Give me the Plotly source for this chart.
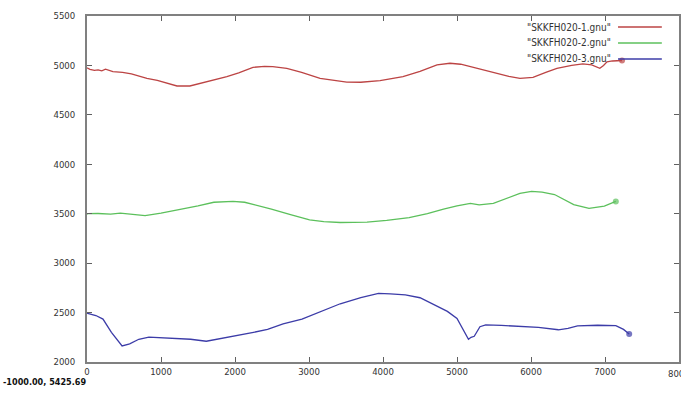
import plotly.graph_objects as go

# ---- data ----
x_red = [0, 40, 100, 150, 200, 250, 350, 480, 600, 810, 950, 1100, 1216, 1390, 1550, 1700, 1890, 2050,
         2243, 2400, 2510, 2700, 2900, 3150, 3350, 3510, 3700, 3960, 4270, 4500, 4730, 4905,
         5050, 5176, 5350, 5540, 5700, 5851, 6027, 6200, 6350, 6550, 6700, 6820, 6890, 6930,
         6980, 7027, 7100, 7180, 7230]
y_red = [4975, 4961, 4950, 4955, 4945, 4962, 4937, 4930, 4915, 4870, 4850, 4815, 4792, 4792, 4820, 4845,
         4886, 4925, 4981, 4990, 4987, 4971, 4930, 4870, 4845, 4832, 4830, 4846, 4886, 4940,
         5006, 5022, 5012, 4987, 4955, 4920, 4890, 4870, 4880, 4930, 4971, 5000, 5015, 5005,
         4987, 4971, 5000, 5037, 5045, 5047, 5050]

x_green = [0, 9, 150, 319, 450, 600, 785, 1000, 1250, 1500, 1714, 1973, 2130, 2300, 2492,
           2750, 3008, 3200, 3422, 3784, 4050, 4353, 4600, 4818, 5000, 5181, 5300, 5491,
           5698, 5850, 6008, 6150, 6318, 6450, 6577, 6784, 6991, 7146]
y_green = [3495, 3500, 3502, 3496, 3505, 3495, 3481, 3505, 3539, 3580, 3616, 3624, 3616,
           3585, 3546, 3490, 3438, 3420, 3411, 3415, 3432, 3461, 3500, 3546, 3580, 3605,
           3590, 3605, 3663, 3705, 3725, 3718, 3694, 3640, 3593, 3554, 3577, 3624]

x_blue = [0, 9, 120, 216, 330, 474, 577, 700, 836, 1000, 1198, 1400, 1612, 1800, 2077,
          2250, 2440, 2650, 2905, 3150, 3422, 3700, 3939, 4100, 4302, 4500, 4662, 4870,
          5000, 5077, 5155, 5190, 5233, 5310, 5388, 5600, 5853, 6100, 6370, 6500, 6629,
          6900, 7146, 7250, 7327]
y_blue = [2495, 2492, 2470, 2434, 2300, 2163, 2183, 2230, 2252, 2245, 2237, 2230, 2210,
          2235, 2279, 2300, 2330, 2385, 2434, 2510, 2589, 2650, 2694, 2690, 2678, 2650,
          2589, 2512, 2440, 2337, 2229, 2250, 2260, 2357, 2376, 2370, 2357, 2350, 2326,
          2340, 2365, 2372, 2368, 2330, 2283]

series_names = ['"SKKFH020-1.gnu"', '"SKKFH020-2.gnu"', '"SKKFH020-3.gnu"']
series_colors = ["#bc4444", "#5cc05c", "#3c3ca8"]
x_ticks = [0, 1000, 2000, 3000, 4000, 5000, 6000, 7000]
x_edge_tick = 8000
y_ticks = [2000, 2500, 3000, 3500, 4000, 4500, 5000, 5500]
coord_text = "-1000.00, 5425.69"

fig = go.Figure()
for xs, ys, name, col in zip([x_red, x_green, x_blue], [y_red, y_green, y_blue],
                             series_names, series_colors):
    sizes = [0] * (len(xs) - 1) + [6]
    fig.add_trace(go.Scatter(x=xs, y=ys, mode="lines+markers", name=name,
                             line=dict(color=col, width=1.3),
                             marker=dict(color=col, size=sizes, line=dict(width=0)),
                             showlegend=False))

font_tick = dict(family="DejaVu Sans Condensed, Liberation Sans Narrow, sans-serif",
                 size=9.5, color="#333333")
axis_common = dict(showgrid=False, zeroline=False, showline=True, linecolor="#808080",
                   linewidth=1.5, mirror="allticks", ticks="inside", ticklen=5,
                   tickcolor="#606060", tickfont=font_tick, automargin=False)
fig.update_xaxes(range=[0, 8000], tickvals=x_ticks, ticktext=[str(v) for v in x_ticks],
                 **axis_common)
fig.update_yaxes(range=[2000, 5500], tickvals=y_ticks,
                 ticktext=[str(v) + "\u00a0\u00a0\u00a0" for v in y_ticks], **axis_common)

# last x tick label sits at the page edge and is cut off there
fig.add_annotation(x=x_edge_tick, y=0, xref="x", yref="paper", yshift=-11, text=str(x_edge_tick),
                   showarrow=False, xanchor="center", yanchor="middle", font=font_tick)

# gnuplot-style key: text right-aligned, sample line to its right
key_y = [0.968, 0.922, 0.876]
for name, col, ky in zip(series_names, series_colors, key_y):
    fig.add_annotation(x=0.8885, y=ky, xref="paper", yref="paper", text=name,
                       showarrow=False, xanchor="right", yanchor="middle",
                       font=dict(family="DejaVu Sans Condensed, sans-serif", size=10, color="#333333"))
    fig.add_shape(type="line", xref="paper", yref="paper", x0=0.897, x1=0.971, y0=ky, y1=ky,
                  line=dict(color=col, width=1.5))

fig.add_annotation(x=0, y=0, xref="paper", yref="paper", xshift=-86, yshift=-20,
                   text="<b>" + coord_text + "</b>", showarrow=False, xanchor="left",
                   yanchor="middle",
                   font=dict(family="DejaVu Sans Condensed, sans-serif", size=9, color="#111111"))

fig.update_layout(width=681, height=394, margin=dict(l=87, r=2, t=16, b=32, autoexpand=False),
                  paper_bgcolor="white", plot_bgcolor="white", showlegend=False)

fig.write_html("out.html", config={"displayModeBar": False},
               post_script="document.body.style.margin='0';document.body.style.padding='0';")
